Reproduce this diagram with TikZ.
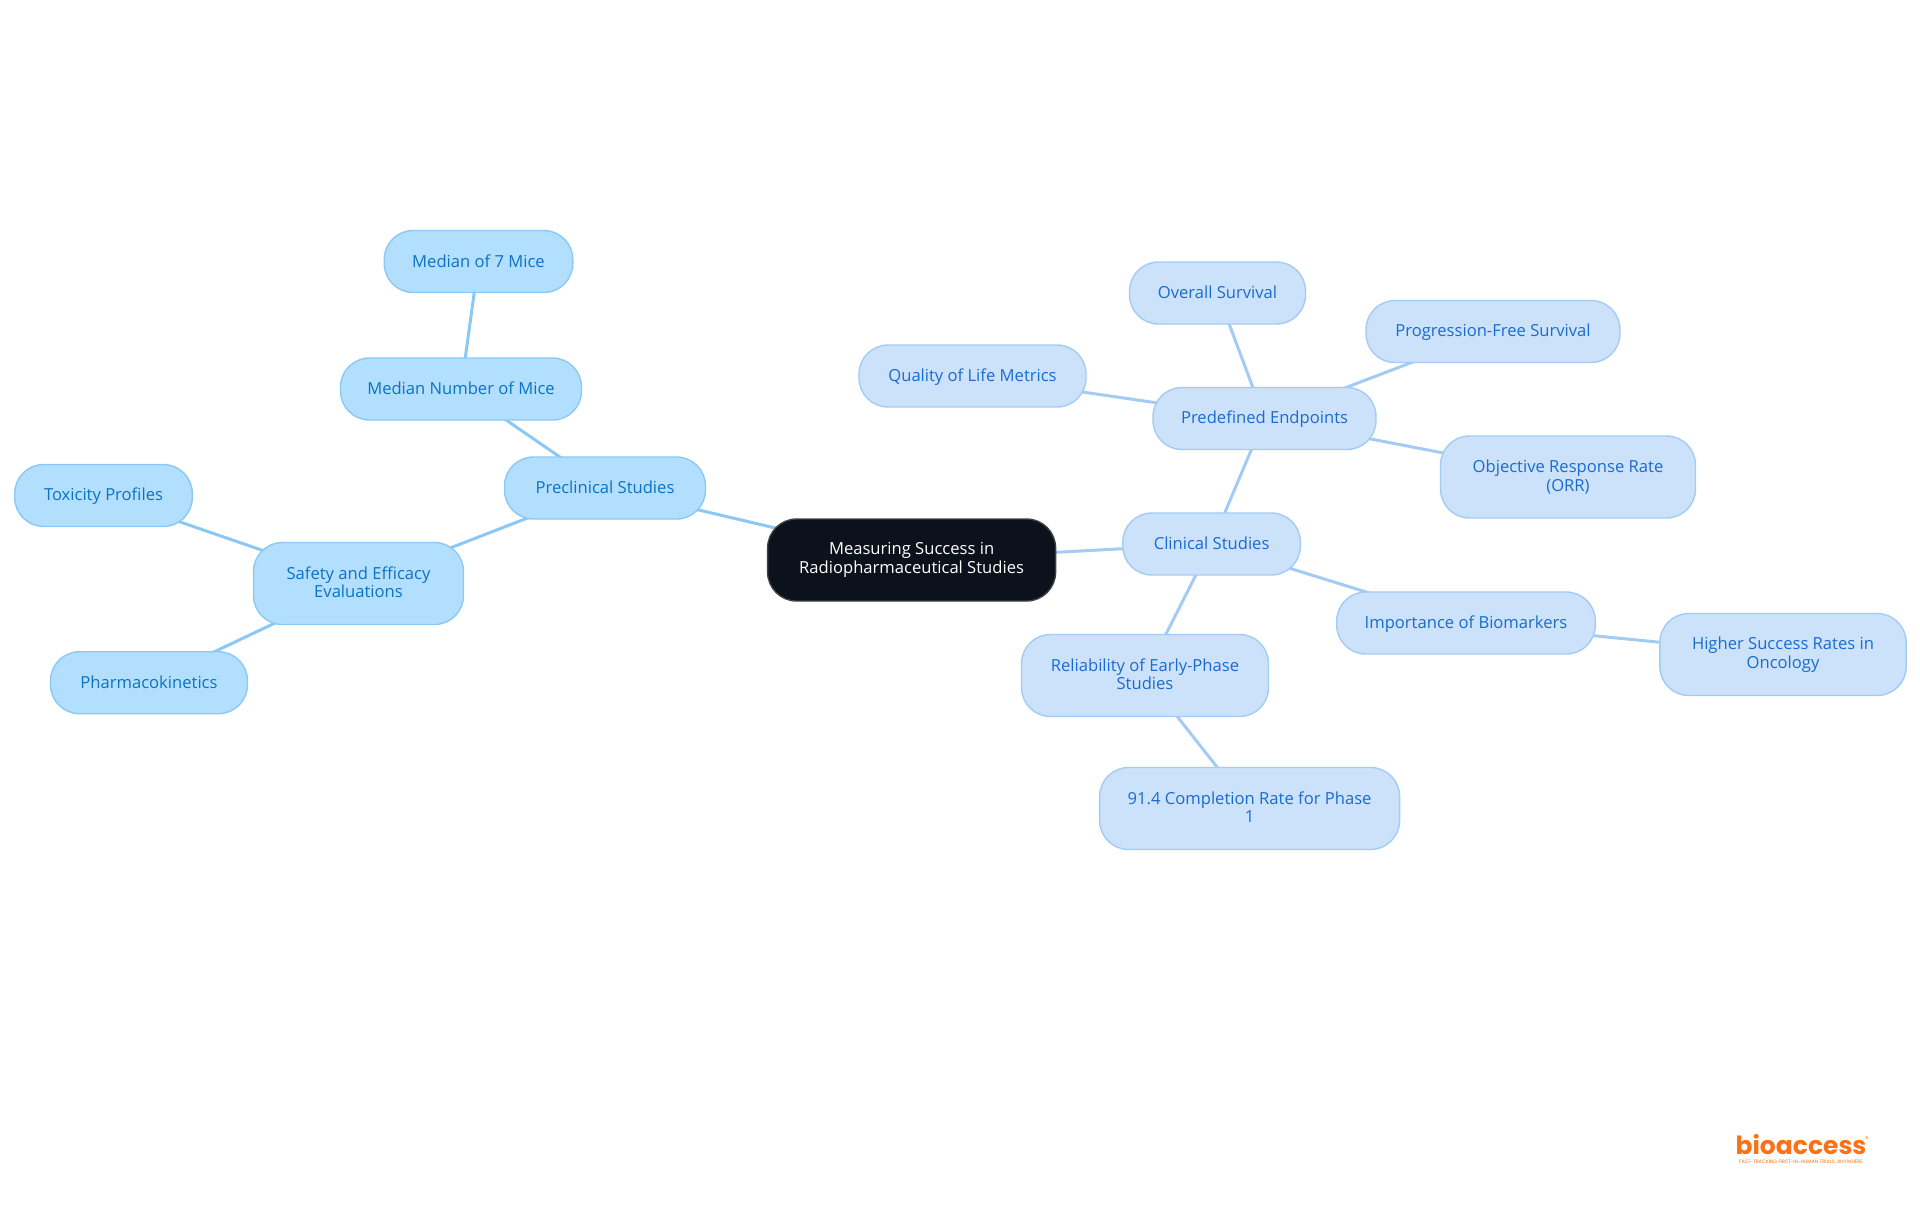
\documentclass[tikz,border=0pt]{standalone}
\usepackage{fontspec}
\setmainfont{Open Sans}
\newfontfamily\logofont{Poppins}
\usetikzlibrary{backgrounds}
\definecolor{rootfill}{HTML}{0C121B}
\definecolor{leftfill}{HTML}{B3DFFF}
\definecolor{leftline}{HTML}{8CC8F5}
\definecolor{lefttext}{HTML}{0B72C4}
\definecolor{rightfill}{HTML}{CCE2FB}
\definecolor{rightline}{HTML}{A3CBF3}
\definecolor{righttext}{HTML}{1A6BD0}
\definecolor{logoorange}{HTML}{F97316}
\newcommand{\mapstrut}{\vrule width 0pt height 7pt depth 1.5pt}
\tikzset{
    mapnode/.style={rounded corners=14.5pt, inner sep=0pt, align=center, line width=0.7pt,
        font=\fontsize{8.3}{9.35}\selectfont,
        execute at begin node=\mapstrut, execute at end node=\mapstrut},
    rootnode/.style={mapnode, fill=rootfill, draw=rootfill!80!white, text=white},
    leftnode/.style={mapnode, fill=leftfill, draw=leftline, text=lefttext},
    rightnode/.style={mapnode, fill=rightfill, draw=rightline, text=righttext},
    leftedge/.style={draw=leftline, line width=1.5pt},
    rightedge/.style={draw=rightline, line width=1.5pt},
}
\begin{document}
\begin{tikzpicture}[x=0.5pt, y=-0.5pt]

    \useasboundingbox (0,0) rectangle (1920,1215);

    %root
    \node[rootnode, minimum width=144pt, minimum height=41pt] (root) at (911.6,560) {Measuring Success in\\Radiopharmaceutical Studies};

    %left side
    \node[leftnode, minimum width=100.5pt, minimum height=31pt] (preclinical) at (605,488) {Preclinical Studies};
    \node[leftnode, minimum width=120.5pt, minimum height=31pt] (medianmice) at (461,389) {Median Number of Mice};
    \node[leftnode, minimum width=94.3pt, minimum height=31pt] (sevenmice) at (478.5,261.5) {Median of 7 Mice};
    \node[leftnode, minimum width=105pt, minimum height=41pt] (safety) at (358.5,583.5) {Safety and Efficacy\\Evaluations};
    \node[leftnode, minimum width=88.8pt, minimum height=31pt] (toxicity) at (103.5,495.5) {Toxicity Profiles};
    \node[leftnode, minimum width=98.5pt, minimum height=31pt] (pharma) at (149,682.7) {Pharmacokinetics};

    %right side
    \node[rightnode, minimum width=88.8pt, minimum height=31pt] (clinical) at (1211.6,544) {Clinical Studies};
    \node[rightnode, minimum width=111.5pt, minimum height=31pt] (endpoints) at (1264.5,418.5) {Predefined Endpoints};
    \node[rightnode, minimum width=88pt, minimum height=31pt] (overall) at (1217.5,293) {Overall Survival};
    \node[rightnode, minimum width=127pt, minimum height=31pt] (progression) at (1493,331.5) {Progression-Free Survival};
    \node[rightnode, minimum width=113.5pt, minimum height=31pt] (quality) at (972.5,376) {Quality of Life Metrics};
    \node[rightnode, minimum width=127.5pt, minimum height=41pt] (orr) at (1568,477) {Objective Response Rate\\(ORR)};
    \node[rightnode, minimum width=129.3pt, minimum height=31pt] (biomarkers) at (1466,623) {Importance of Biomarkers};
    \node[rightnode, minimum width=123.2pt, minimum height=41pt] (higher) at (1783,654.5) {Higher Success Rates in\\Oncology};
    \node[rightnode, minimum width=123.5pt, minimum height=41pt] (reliability) at (1145,675.5) {Reliability of Early-Phase\\Studies};
    \node[rightnode, minimum width=150pt, minimum height=41pt] (completion) at (1249.6,808.5) {91.4 Completion Rate for Phase\\1};

    %edges
    \begin{scope}[on background layer]
        \foreach \a/\b in {root/preclinical, preclinical/medianmice, medianmice/sevenmice, preclinical/safety, safety/toxicity, safety/pharma}
            \draw [leftedge] (\a.center) -- (\b.center);
        \foreach \a/\b in {root/clinical, clinical/endpoints, endpoints/overall, endpoints/progression, endpoints/quality, endpoints/orr, clinical/biomarkers, biomarkers/higher, clinical/reliability, reliability/completion}
            \draw [rightedge] (\a.center) -- (\b.center);
    \end{scope}

    %logo
    \node[text=logoorange, inner sep=0pt, font=\logofont\bfseries\fontsize{12.5}{13}\selectfont] (logo) at (1801,1144.5) {bioaccess};
    \node[text=logoorange, inner sep=0pt, font=\logofont\fontsize{3.5}{4}\selectfont] (logomark) at (1867,1139) {®};
    \node[text=logoorange, inner sep=0pt, font=\logofont\fontsize{2.45}{3}\selectfont] (tagline) at (1801,1162) {FAST-TRACKING FIRST-IN-HUMAN TRIALS, ANYWHERE};

\end{tikzpicture}
\end{document}
